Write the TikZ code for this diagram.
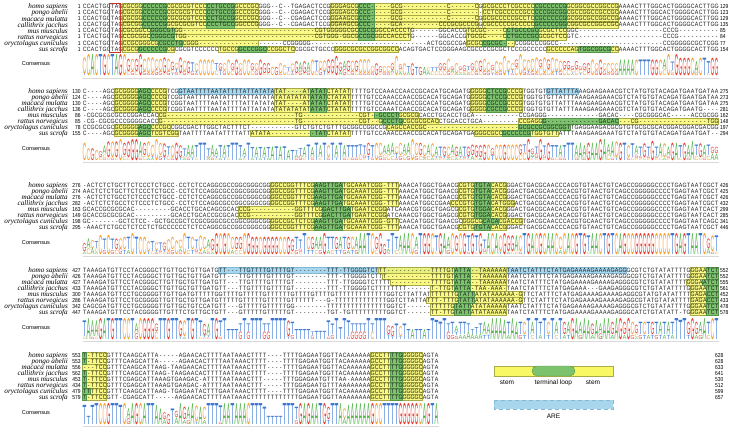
\documentclass[tikz,border=0pt]{standalone}
\usepackage{fontspec}
\setmainfont{Liberation Sans}
\newfontfamily\seqf[FakeStretch=0.85]{Liberation Sans}
\newfontfamily\spf{Liberation Serif}
\newfontfamily\logof{Liberation Sans}
\usepackage{graphicx}
\definecolor{hlyel}{RGB}{248,248,100}
\definecolor{hlyelb}{RGB}{170,170,70}
\definecolor{hlgrn}{RGB}{125,195,110}
\definecolor{hlgrnb}{RGB}{85,150,75}
\definecolor{hlblu}{RGB}{168,214,236}
\definecolor{hlblub}{RGB}{130,185,215}
\definecolor{lcA}{RGB}{80,180,70}
\definecolor{lcC}{RGB}{245,160,50}
\definecolor{lcG}{RGB}{230,60,50}
\definecolor{lcT}{RGB}{60,120,210}
\definecolor{seqtxt}{RGB}{25,25,25}
\definecolor{boxred}{RGB}{200,50,40}
\tikzset{
  hy/.style={fill=hlyel, fill opacity=0.8, draw=hlyelb, line width=0.3pt},
  hyl/.style={fill=hlyel, draw=hlyelb, line width=0.4pt},
  hg/.style={fill=hlgrn, draw=hlgrnb, line width=0.3pt},
  hb/.style={fill=hlblu, draw=hlblub, line width=0.3pt},
}
\newcommand\lgletter[4]{\node[anchor=base,inner sep=0pt] at (#1,#2) {\textcolor{lc#3}{\resizebox{3.8pt}{#4pt}{\logof #3}}};}
\ExplSyntaxOn
\int_new:N \l_lg_col_int
\int_new:N \l_lg_n_int
\int_new:N \l_lg_A_int
\int_new:N \l_lg_C_int
\int_new:N \l_lg_G_int
\int_new:N \l_lg_T_int
\int_new:c { l_lg_-_int }
\int_new:c { l_lg__int }
\tl_new:N \l_lg_ch_tl
\tl_new:N \l_lg_blk_tl
\fp_new:N \l_lg_h_fp
\fp_new:N \l_lg_s_fp
\fp_new:N \l_lg_y_fp
\fp_new:N \l_lg_x_fp
\fp_new:N \l_lg_hh_fp
\seq_new:N \l_lg_let_seq
\cs_new:Npn \gp #1 { \prg_replicate:nn {#1} {-} }
\cs_new:Npn \lg_cmp:nn #1#2
  {
    \int_compare:nNnTF { \int_use:c { l_lg_#1_int } } > { \int_use:c { l_lg_#2_int } }
      { \sort_return_swapped: } { \sort_return_same: }
  }
\cs_new_protected:Npn \lg_ent:n #1
  {
    \int_compare:nNnT { \int_use:c { l_lg_#1_int } } > { 0 }
      {
        \fp_set:Nn \l_lg_h_fp
          { \l_lg_h_fp - ( \int_use:c { l_lg_#1_int } / \int_use:N \l_lg_n_int ) * ln ( \int_use:c { l_lg_#1_int } / \int_use:N \l_lg_n_int ) / ln ( 2 ) }
      }
  }
\NewDocumentCommand \storeseq { m m m } { \tl_gset:cx { g_lg_#1_#2_tl } {#3} }
\NewDocumentCommand \typeseqv { m m } { \exp_args:Nc \tl_map_inline:Nn { g_lg_#1_#2_tl } { \makebox[4pt]{##1} } }
\NewDocumentCommand \drawlogo { m m m }
  {
    \tl_set:Nx \l_lg_blk_tl {#1}
    \int_set:Nn \l_lg_col_int { 1 }
    \int_until_do:nNnn { \l_lg_col_int } > { #3 }
      {
        \int_zero:N \l_lg_A_int
        \int_zero:N \l_lg_C_int
        \int_zero:N \l_lg_G_int
        \int_zero:N \l_lg_T_int
        \int_step_inline:nn { 8 }
          {
            \tl_set:Nx \l_lg_ch_tl { \exp_args:Nc \tl_item:Nn { g_lg_ \l_lg_blk_tl _##1_tl } { \l_lg_col_int } }
            \int_if_exist:cT { l_lg_ \l_lg_ch_tl _int } { \int_incr:c { l_lg_ \l_lg_ch_tl _int } }
          }
        \int_set:Nn \l_lg_n_int { \l_lg_A_int + \l_lg_C_int + \l_lg_G_int + \l_lg_T_int }
        \int_compare:nNnT { \l_lg_n_int } > { 0 }
          {
            \fp_zero:N \l_lg_h_fp
            \lg_ent:n { A } \lg_ent:n { C } \lg_ent:n { G } \lg_ent:n { T }
            \fp_set:Nn \l_lg_s_fp { 21 * ( 0.45 + 0.55 * ( 2 - \l_lg_h_fp ) / 2 ) * ( 0.3 + 0.7 * \int_use:N \l_lg_n_int / 8 ) }
            \seq_set_from_clist:Nn \l_lg_let_seq { A , C , G , T }
            \seq_sort:Nn \l_lg_let_seq { \lg_cmp:nn {##1} {##2} }
            \fp_set:Nn \l_lg_y_fp { #2 }
            \fp_set:Nn \l_lg_x_fp { 84.5 + 4 * ( \int_use:N \l_lg_col_int - 1 ) }
            \seq_map_inline:Nn \l_lg_let_seq
              {
                \fp_set:Nn \l_lg_hh_fp { \l_lg_s_fp * \int_use:c { l_lg_##1_int } / \int_use:N \l_lg_n_int }
                \fp_compare:nNnT { \l_lg_hh_fp } > { 0.6 }
                  {
                    \use:e { \exp_not:N \lgletter { \fp_eval:n { round ( \l_lg_x_fp , 2 ) } } { \fp_eval:n { round ( \l_lg_y_fp , 2 ) } } { ##1 } { \fp_eval:n { round ( \l_lg_hh_fp , 2 ) } } }
                  }
                \fp_sub:Nn \l_lg_y_fp { \l_lg_hh_fp }
              }
          }
        \int_incr:N \l_lg_col_int
      }
  }
\ExplSyntaxOff
\newcommand\hlbox[4]{\draw[#4] ({82.5+4*(#2)},{\blkbase+6.05*((#1)-1)-3}) rectangle ({86.5+4*(#3)},{\blkbase+6.05*((#1)-1)+3});}
\newcommand\hlrows[5]{\foreach \hlr in {#1,...,#2}{\hlbox{\hlr}{#3}{#4}{#5}}}
\newcommand\seqrow[5]{%
  \storeseq{\blkid}{#1}{#5}%
  \node[anchor=base east,inner sep=0pt,font=\spf\itshape\fontsize{7.2}{8}\selectfont] at (68,{\blkbase+6.05*(#1-1)+2.4}) {#4};%
  \node[anchor=base east,inner sep=0pt,font=\seqf\fontsize{5.8}{6}\selectfont] at (80.8,{\blkbase+6.05*(#1-1)+2.2}) {#2};%
  \node[anchor=base west,inner sep=0pt,text=seqtxt,font=\seqf\fontsize{6.2}{6.2}\selectfont] at (82.5,{\blkbase+6.05*(#1-1)+2.2}) {\typeseqv{\blkid}{#1}};%
  \node[anchor=base west,inner sep=0pt,font=\seqf\fontsize{5.8}{6}\selectfont] at (\endx,{\blkbase+6.05*(#1-1)+2.2}) {#3};%
}
\newcommand\consensus[1]{%
  \node[inner sep=0pt,font=\fontsize{5.6}{6}\selectfont] at (36,{\blkbase+57.5}) {Consensus};%
  \drawlogo{\blkid}{\blkbase+69}{#1}%
  \draw[gray!30,line width=0.5pt] (82.5,{\blkbase+71.4}) -- ({82.5+4*#1},{\blkbase+71.4});%
}
\begin{document}
\begin{tikzpicture}[x=1pt,y=-1pt]
\useasboundingbox (0,0) rectangle (733,432);
\fill[white] (0,0) rectangle (733,432);
% ---------------- block 1
\def\blkid{1}\def\blkbase{6.5}\def\endx{720}
\hlrows{1}{4}{10}{43}{hy}\hlrows{1}{4}{62}{98}{hy}\hlrows{1}{4}{100}{133}{hy}
\hlrows{5}{6}{10}{81}{hy}\hlrows{5}{6}{96}{120}{hy}
\hlbox{7}{10}{43}{hy}\hlbox{7}{96}{107}{hy}
\hlbox{8}{10}{22}{hy}\hlbox{8}{34}{52}{hy}\hlbox{8}{63}{78}{hy}\hlbox{8}{116}{133}{hy}
\hlrows{1}{4}{15}{20}{hg}\hlrows{1}{4}{31}{37}{hg}\hlrows{1}{6}{69}{72}{hg}\hlrows{1}{4}{113}{120}{hg}
\hlrows{5}{6}{17}{22}{hg}\hlrows{5}{6}{106}{113}{hg}
\hlbox{7}{19}{24}{hg}\hlbox{7}{100}{105}{hg}
\hlbox{8}{14}{20}{hg}\hlbox{8}{39}{45}{hg}\hlbox{8}{124}{131}{hg}
\seqrow{1}{1}{129}{homo sapiens}{CCACTGCTAG CGCGGCCCCCGCGCGCGTCCCCCTGCCGGCCCGC GGG--C--TGAGACTCCG GGGAGCGCCC -----GCG-----------C------C GGCGCCCTCGCCCCCGCCCCCGGCGGCGCCGGCCG AAAACTTTGGCACTGGGGCACTTGG}
\seqrow{2}{1}{123}{pongo abelii}{CCACTGCTAG CGCGGCCCCCGCGCGCGTCCCCCTGCCGGCCCGC GGG--C--CGAGACTCCG GGGAGCGCCC -----GCG-----------C------- -CCTCGCCCCCGCCCCCGGCGGCGCCGGCCGCCGC AAAACTTTGGCACTGGGGCACTTGG}
\seqrow{3}{1}{129}{macaca mulatta}{CCACTGCTAG CGCGGCCCCCGCGCGCGTCCCCCTGCCGGCCCGC GGG--C--CGAGACTCCG GGAAGCGCCC -----GCG-----------C------C GGCGCCCCCGCCTCCGCCCCCGGCGGCGCCGGCCG AAAACTTTGGCACTGGGGCACTTGG}
\seqrow{4}{1}{135}{callithrix jacchus}{CCACTGCTAG CGCGGCCCCCGGCGCGCGTCCCCCTGCCGGCCCG GGG--C--CGAGACTCCG GGAAGCGCCC -----GCA---------CCCGCGCCCG GCGCCCCCGCCCCCGCCCCCGGCGGCGCCGGCCGC AAAACTTTGGCACTGGGGCACTTGG}
\seqrow{5}{1}{85}{mus musculus}{CCACTGCTAGCGCGGCCGGGCGTGG\gp{33}CGTG GGGGCGCCGC CGGCCACCCTG\gp{6}GGCACCGTGC GC\gp{4}CCTGCCCGCGCGCTCCGGC\gp{21}CCCG\gp{10}}
\seqrow{6}{1}{84}{rattus norvegicus}{TCACTGCTAGCCGCGGCCGGGCGTGG\gp{32}CGTG GG-GGCGCCG CGGCCACCCTG\gp{6}GGCACCGTGC GC\gp{4}CCTGCCCGCGCGCTCCGTC\gp{21}CCCG\gp{10}}
\seqrow{7}{1}{77}{oryctolagus cuniculus}{CCACTGCTAGCCGCGGGCGCGCCTGCGGG\gp{21}CCGGGGG\gp{29}ACTGCGCCGAGCG CCGCGC---CCGGCCCGGCC\gp{26}CCGGGGGCGCTCGG}
\seqrow{8}{1}{154}{sus scrofa}{CCACTGCTAG CGCGGCCCCCGCGCGCGTCCCCCCTGCCGGCCCG GCCCGGCTCCGCGCTGCC CGGGCGCGCC GGCGGCCACAGTGACTCCGGGAAGCGC CCCGCGCTCCCGCCCCCGCCCCCAGTGGCGGCGCC AAAACTTTGGCACTGGGGCACTTGG}
\draw[boxred,line width=0.6pt] (109.5,2.8) rectangle (119.8,52.6);
\consensus{159}
% ---------------- block 2
\def\blkid{2}\def\blkbase{91}
\hlbox{1}{24}{56}{hb}\hlbox{1}{116}{123}{hb}
\hlrows{1}{4}{8}{20}{hy}\hlrows{1}{4}{48}{66}{hy}\hlrows{1}{4}{97}{109}{hy}
\hlbox{5}{19}{83}{hy}\hlbox{6}{19}{88}{hy}\hlbox{6}{109}{114}{hy}\hlbox{6}{134}{158}{hy}
\hlbox{7}{8}{21}{hy}\hlbox{7}{76}{108}{hy}
\hlbox{8}{8}{23}{hy}\hlbox{8}{42}{66}{hy}\hlbox{8}{98}{118}{hy}
\hlrows{1}{4}{14}{16}{hg}\hlrows{7}{8}{14}{16}{hg}\hlrows{1}{4}{57}{60}{hg}\hlbox{8}{57}{60}{hg}
\hlrows{1}{4}{101}{105}{hg}\hlbox{5}{73}{78}{hg}\hlbox{6}{75}{79}{hg}\hlbox{6}{115}{133}{hg}
\hlbox{7}{109}{121}{hg}\hlbox{8}{105}{111}{hg}
\seqrow{1}{130}{275}{homo sapiens}{C----AGC GCGGGGAGCCCCGT CG GTAATTTTAATATTTTATTATATAT AT----ATA TATC TATAT TTT TGTCCAAACCAACCGCACATGCAGATG GGGGCTCCGCCCG TGGTGT GTTATTTA AAGAAGAAACGTCTATGTGTACAGATGAATGATAA}
\seqrow{2}{124}{273}{pongo abelii}{C----AGC GCGGGGAGCCCCGT CG GTAATTTTAATATTTTATTATATAT ATATATATA TATC TATAT TTT TGTCCAAACCAACCGCACATGCAGATG GGGGCTCCGCCCG TGGTGT GTTATTTA AAGAAGAAACGTCTATGTGTACAGATGAATGATAA}
\seqrow{3}{130}{275}{macaca mulatta}{C----AGC GCGGGGAGCCCCGT CG GTAATTTTAATATTTTATTATATAT AT----ATA TATC TATAT TTT TGTCCAAACCAACCGCACATGCAGATG GGGGCGCCGCCCG TGGTGT GTTATTTA AAGAAGAAACGTCTATGTGTACAGATGAATGATAA}
\seqrow{4}{136}{281}{callithrix jacchus}{C----AGC GCGGGGAGCCCCGT CG GTAATTTTAATATTTTATTATATAT ATATATATA TATC TATAT TTT TGTCCAAATCAACCGCACATGCAGATG GGGGCGCCGCCCG TGGTGT GTTATTTA AAGAAGAAACGTCTATGTGTACAGATGAATG----}
\seqrow{5}{86}{162}{mus musculus}{-CGCGCGCGCCCGGACCAC CG\gp{32}TG\gp{14}C GT--GCCCTGCGCG CACCTGCACCTGCA\gp{11}CCGAGGG\gp{13}GACAC\gp{4}CGCGGGCAC\gp{5}ACCGCGG}
\seqrow{6}{85}{148}{rattus norvegicus}{-CG-CGCGCCCGGGGCACC G\gp{33}TG\gp{14}C GT--GCCCTGCGCGCGCAC CTGCACCTGCA\gp{9}CCGAGG G\gp{13}GACAC ---CG\gp{17}TGG}
\seqrow{7}{78}{197}{oryctolagus cuniculus}{CCGCGCGC GCGGGGAGCCCCGC CGGCGACTTGGCTACTTTCT\gp{11}GTCTGTCTGTTTGCGGC CGGCCG CAGCCACCGC\gp{23}GCGCCGCGGCGGTTG AGGAAGACGCGTGTGCGCGCACGGACGGACGACGG}
\seqrow{8}{155}{294}{sus scrofa}{C----AGC GCGGGGAGCTCGTC GG TAATTTTAATATTTTATT ATATA\gp{11}TATC TATAT TTT TGTCCAAACCAACCGCACATGCAGATGA GGGCGCCGCCCCCGTGGTGTT ATTTA AAGAAGAAATGTCTATGTGTACAGATGAATGAT--}
\consensus{159}
% ---------------- block 3
\def\blkid{3}\def\blkbase{185}
\hlrows{1}{4}{47}{78}{hy}\hlrows{7}{8}{47}{78}{hy}\hlrows{5}{6}{39}{75}{hy}
\hlrows{1}{3}{94}{105}{hy}\hlbox{4}{92}{107}{hy}\hlrows{5}{6}{94}{105}{hy}\hlbox{7}{95}{109}{hy}\hlbox{8}{94}{105}{hy}
\hlrows{1}{4}{58}{64}{hg}\hlrows{7}{8}{58}{64}{hg}\hlrows{5}{6}{60}{66}{hg}
\hlrows{1}{6}{98}{101}{hg}\hlbox{7}{100}{103}{hg}\hlbox{8}{98}{101}{hg}
\seqrow{1}{276}{426}{homo sapiens}{-ACTCTCTGCTTCTCCCTCTGCC-CCTCTCCAGGCGCCGGCGGGCGG GGCCGGTTTCG AAGTTGA TGCA AATCGG-TTT AAACATGGCTGAACG CGTGTGTACACG GGACTGACGCAACCCACGTGTAACTGTCAGCCGGGGGCCCCTGAGTAATCGCT}
\seqrow{2}{274}{425}{pongo abelii}{AACTCTCTGCTTCTCCCTCTGCC-CCTCTCCAGGCGCCGGCGGGCGG GGCCGGTTTCG AAGTTGA TGCA AATCGG-TTT AAACATGGCTGAACG CGTGTGTACACG GGACTGACGCAACCCACGTGTAACTGTCAGCCGGGGGCCCCTGAGTAATCGCT}
\seqrow{3}{276}{426}{macaca mulatta}{-ACTCTCTGCCTCTCCCTCTGCC-CCTCTCCAGGCGCCGGCGGGCGG GGCCGGTTTCG AAGTTGA TGCA AATCGG-TTT AAACATGGCTGAACG CGTGTGTACACG GGACTGACGCAACCCACGTGTAACTGTCAGCCGGGGGCCCCTGAGTAATCGCT}
\seqrow{4}{282}{432}{callithrix jacchus}{-ACTCTCTGCCTCTCCCTCTGCC-CCTCTCCAGGCGCCGGCGGGCGG GGCCGGTTTCG AAGTTGA TGCA AATCGG-TTT AAACATGGCCGAA CCCGTGTGTACATGGG ACTGACGCAACCCACGTGTAACTGTCAGCCGGGGGCCCCTGAGTAATCGCT}
\seqrow{5}{163}{299}{mus musculus}{GCACCGCGCGCAC\gp{9}GCACCTGCACAGCGCAC CCG\gp{11}GGTTTCG GACTTGA TG AATCCGG ATCAAACGTGGCTGAGCG CGTGTGGACACG GGACTGACGCAACACACGTGTAACTGTCAGCCGGGGGCCCCTGAGTAATCACT}
\seqrow{6}{149}{285}{rattus norvegicus}{GCACCGCGCGCAC\gp{9}GCACCTGCACCGCGCAC CCG\gp{11}GGTTTCG GACTTGA TG AATCCGG ATCAAACGTGGCTGAGCG CGTGTGGACACG GGACTGACGCAACACACGTGTAACTGTCAGCCGGGGGCCCCTGAGTAATCACT}
\seqrow{7}{198}{341}{oryctolagus cuniculus}{GC-------GCTCTCC--GCTGCCGCTCCGCGGGCGCCGGCGGGCGG GGCCGCTCTCG AAGTTGA TGCA AATCGG-GTT CAACATGGCTGAACGC GGGCGCACACGACCG TGACGCAACCCACGTGCAACTGTCAGCCGGGGGCCCCTGAGTAATCAGC}
\seqrow{8}{295}{446}{sus scrofa}{-AAACTCTGCCTCTCCTCTGCCCCCCTCTCCAGGCGCCGGCGGGCGG GGCCGGTTTCG AAGTTGA TGCA AATCGG-TTT AAACATGGCTGAACG CGTGTGTACACG GGACTGACGCAACCCACGTGTAACTGTCAGCCGGGGGCCCCTGAGTAATCGCT}
\consensus{159}
% ---------------- block 4
\def\blkid{4}\def\blkbase{270}
\hlbox{1}{34}{135}{hb}
\hlbox{1}{74}{92}{hy}\hlbox{2}{75}{92}{hy}\hlbox{3}{77}{92}{hy}\hlbox{4}{87}{92}{hy}
\hlbox{5}{87}{93}{hy}\hlbox{6}{86}{93}{hy}\hlrows{7}{8}{87}{92}{hy}
\hlrows{1}{4}{97}{105}{hy}\hlrows{7}{8}{97}{105}{hy}\hlrows{5}{6}{98}{109}{hy}
\hlrows{1}{2}{152}{155}{hy}\hlbox{3}{151}{154}{hy}\hlrows{4}{8}{152}{155}{hy}
\hlrows{1}{4}{93}{96}{hg}\hlrows{7}{8}{93}{96}{hg}\hlrows{5}{6}{94}{97}{hg}
\hlrows{1}{2}{156}{158}{hg}\hlbox{3}{155}{158}{hg}\hlrows{4}{8}{156}{158}{hg}
\seqrow{1}{427}{552}{homo sapiens}{TAAAGATGTTCCTACGGGCTTGTTGCTGTTGATG TT---TTGTTTTGTTTTGT\gp{8}TTT-TTGG GGTCT TT\gp{11}TTTTGT ATTA --TAAAAAA TAATCTATTTCTATGAGAAAAGAAAAGAGG GCGTCTGTATATTTTG GGAATCT}
\seqrow{2}{426}{552}{pongo abelii}{TAAAGATGTTCCTACGGGCTTGTTGCTGTTGATG TT---TTGTTTTGTTTTGT\gp{8}TTT-TTGG GGTCTT T\gp{11}TTTTGT ATTA --TAAAAAA TAATCTATTTCTATGAGAAAAGAAAAGAGG GCGTCTGTATATTTTG GGAATCT}
\seqrow{3}{427}{555}{macaca mulatta}{TAAAGATGTTCCTACGGGCTTGTTGCTGTTGATG TT---TTGTTTTGTTTTGT\gp{8}TTT-TTGG GGTCTTTT\gp{10}TTTTGT ATTA --TAAAAAA TAATCTATTTCTATGAGAAAAGAAAAGAGG GCGTCTGTATATTT TGGGAATCT}
\seqrow{4}{433}{561}{callithrix jacchus}{TAAAGATGTTCCTACGGGCTTGTTGCTGTTGATG TT---TTGTTTTGTTTTGT\gp{8}TTT-TTGG GGTCTTTTTTTT\gp{6}T-TTGT ATTA -TAA-AAA- TAATCTATTTCTATGAGAAA---GAAGAGG GCGTCTGTATATTTTG GGAATCT}
\seqrow{5}{300}{452}{mus musculus}{TAAAGATGTT CCTGCGGGGT TGTTGATGTT TTTGGTTTTG TTTTTGTTTT TTGTTTTGTT TTGTTTTTT TTTTTTTGGTCTTATTAT TTTTTTG TATT ATATAAAAAA-G TTCTATTTCTATGAGAAAAGAAAAGAGGCGTATGTATATTTT GAGACCT}
\seqrow{6}{286}{433}{rattus norvegicus}{TAAAGATGTT CCTGCGGGGT TGTTGCTGTT GATGTTTTTG TTTTTGTTTT TGTTTTTT-- -G-TTTTTT TTTTTTTGGTCTTATTA TTT-TTTG TATT ATATAAAAAA-G TTCTATTTCTATGAGAAAAGAAAAGAGGCGTATGTATATTTT GAGACCT}
\seqrow{7}{342}{478}{oryctolagus cuniculus}{CAGCGATGTT CCTGCGGGGT TGTTGCTGTC CATGTT---G TTTTTGTTTT TGG------- -TTTTTTTT TTTTTTTGGTCT------ TTTTTG TATT ATATAAAAA TAATCTATTTCTATGAGAAAAGAAAAGAGG GCGTCTGTATATTTTG GGAATCT}
\seqrow{8}{447}{578}{sus scrofa}{TAAAGATGTT CCTACGGGGT TGTTTCTGTT GCTGTT---G TTTTTGTTTT TGT------- -TGT-TGTT TTTTTTTGGTCT------ TT-TTG TATT ATATAAAAA TAATCTATTTCTATGAGAAAAGAAAAGAGG GCATCTGTATATT-TG GGAATCT}
\consensus{159}
% ---------------- block 5
\def\blkid{5}\def\blkbase{355}\def\endx{715}
\hlrows{1}{8}{0}{5}{hy}\hlrows{1}{8}{72}{84}{hy}
\hlrows{1}{2}{0}{0}{hg}\hlrows{4}{6}{0}{0}{hg}\hlbox{7}{0}{1}{hg}\hlbox{8}{0}{0}{hg}\hlrows{1}{8}{77}{79}{hg}
\seqrow{1}{553}{628}{homo sapiens}{T-TTCCGTTT CAAGCATTA- ----AGAACA CTTTTAATAA ACTTTT---- TTTTGAGAAT GGTTACAAA A AAGCCTTTTGGGGGCAGTA}
\seqrow{2}{553}{628}{pongo abelii}{T-TTCCGTTT CAAGCATTA- ----AGAACA CTTTTAATAA ACTTTT---- TTTTGAGAAT GGTTACAAA A AAGCCTTTTGGGGGCAGTA}
\seqrow{3}{556}{633}{macaca mulatta}{---TCCGTTT CAAGCATTAA G-TAAGAACA CTTTTAATAA ACTTTT---- TTTTGAGAAT GGTTACAAA A AAGCCTTTTGGGGGCAGTA}
\seqrow{4}{562}{641}{callithrix jacchus}{T-TTCCGTTT CAAGCATTAA G-TAAGAACA CTTTTAATAA ACTTTT---- TTTTGAGAAT GGTTACAAA A AAGCCTTTTGGGGGCAGTA}
\seqrow{5}{453}{530}{mus musculus}{T-TTCCGTTT CGAGCATTAA AGTGAAGAC- ATTTTAATAA ACTTT----- TTTGGAGAAT GTTTAA-AA A AAGCCTTTTGGGGGCAGTA}
\seqrow{6}{434}{512}{rattus norvegicus}{T-TTCCGTTT CGAGCATTAA AGTGAAGAC- ATTTTAATAA ACTTT----- TTTGGAGAAT GTTTAAAAA A AAGCCTTTTGGGGGCAGTA}
\seqrow{7}{479}{599}{oryctolagus cuniculus}{TTTTCCGTTT CAAGCATTAA G-TGAGAATA CTTTGAATAA ACTTTT---- TTTTGAGAAT GGTTACAAA A AAGCCTTTTGGGGGCAGTA}
\seqrow{8}{579}{657}{sus scrofa}{T-TTCCGTT- CGAGCATT-- ---AAGAACA CTTTTAATAA ACTTTTTTTT TTTTGAGAAT GGTTAAAAA A AAGCCTTTTGGGGGCAGTA}
\consensus{89}
% ---------------- legend
\draw[hyl] (494,366) rectangle (613,376);
\draw[fill=hlgrn, draw=hlgrnb, line width=0.4pt, rounded corners=5pt] (532,366) rectangle (575,376);
\node[font=\fontsize{6.5}{7}\selectfont] (lstem1) at (507,382.5) {stem};
\node[font=\fontsize{6.5}{7}\selectfont] (lloop) at (553.5,382.5) {terminal loop};
\node[font=\fontsize{6.5}{7}\selectfont] (lstem2) at (593,382.5) {stem};
\draw[fill=hlblu, draw=hlblub, dash pattern=on 4pt off 3pt, line width=0.5pt] (494,400) rectangle (613,409);
\node[font=\fontsize{6.5}{7}\selectfont] (lare) at (553.5,416) {ARE};
\end{tikzpicture}
\end{document}
